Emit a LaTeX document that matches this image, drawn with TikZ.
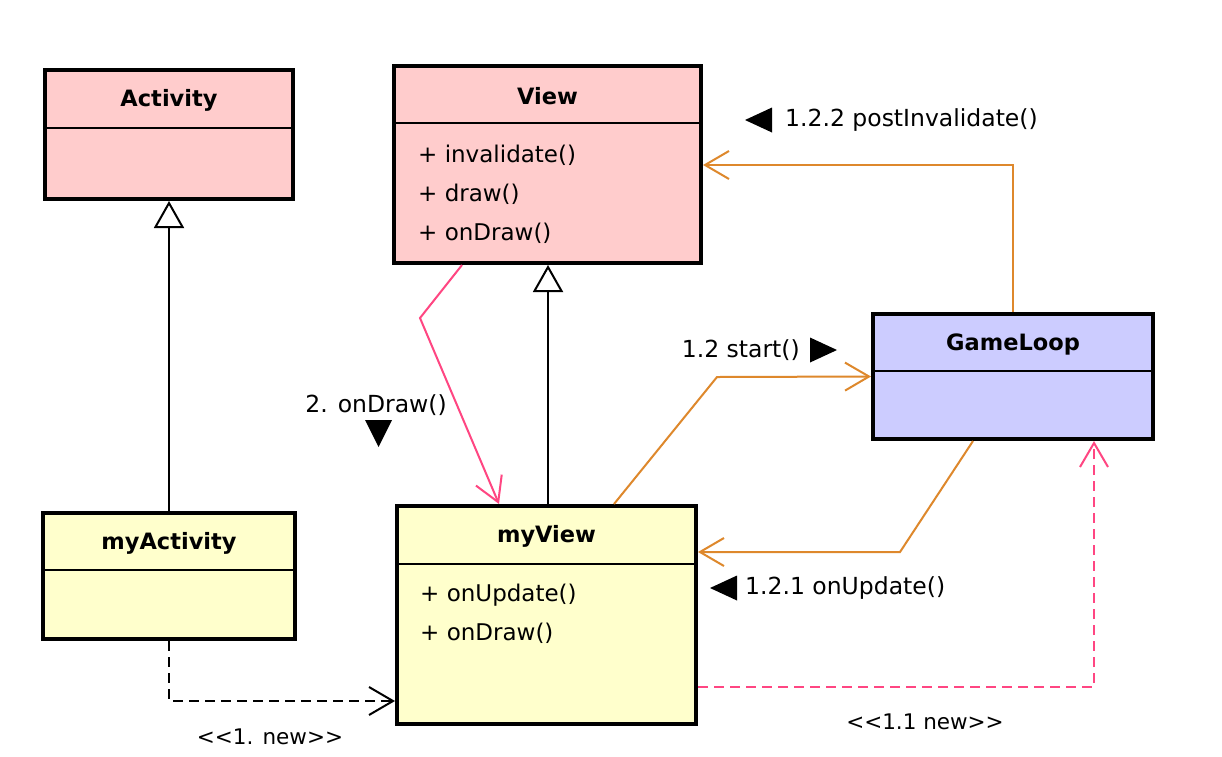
\documentclass[tikz,border=0pt]{standalone}
\usepackage{fontspec}
\setmainfont{DejaVu Sans}
\usetikzlibrary{arrows.meta}

\definecolor{basepink}{RGB}{255,204,204}
\definecolor{subyellow}{RGB}{255,255,204}
\definecolor{looplilac}{RGB}{204,204,255}
\definecolor{callorange}{RGB}{222,136,44}
\definecolor{drawpink}{RGB}{255,70,130}

\tikzset{
    classbox/.style={draw, line width=4pt, inner sep=0pt},
    classname/.style={font=\bfseries\fontsize{22.5}{27}\selectfont},
    member/.style={anchor=west, inner sep=0pt, font=\fontsize{23}{28}\selectfont},
    msg/.style={inner sep=0pt, font=\fontsize{23.5}{28}\selectfont},
    stereo/.style={inner sep=0pt, font=\fontsize{21.5}{26}\selectfont},
    divider/.style={line width=2pt},
    inherit/.style={line width=2pt, -{Triangle[open, length=27pt, width=30pt, line width=2pt]}},
    call/.style={line width=2pt, -{Straight Barb[length=24pt, width=28pt, line width=2pt]}},
    create/.style={call, dash pattern=on 10pt off 6pt}
}

\begin{document}
\begin{tikzpicture}[x=1pt, y=-1pt]

        \fill[white] (0,0) rectangle (1222,756);

        % Activity
        \node [classbox,
            fill=basepink,
            minimum width=248pt,
            minimum height=129pt] (activity) at (169,134.5){};
        \node [classname] (activityname) at (169,100) {Activity};
        \draw [divider] (activity.west |- 0,128) -- (activity.east |- 0,128);

        % View
        \node [classbox,
            fill=basepink,
            minimum width=307pt,
            minimum height=197pt] (view) at (547.5,164.5){};
        \node [classname] (viewname) at (547.5,96) {View};
        \draw [divider] (view.west |- 0,123) -- (view.east |- 0,123);
        \node [member] (viewinvalidate) at (418,155) {+ invalidate()};
        \node [member] (viewdraw) at (418,194) {+ draw()};
        \node [member] (viewondraw) at (418,233) {+ onDraw()};

        % myActivity
        \node [classbox,
            fill=subyellow,
            minimum width=252pt,
            minimum height=126pt] (myactivity) at (169,576){};
        \node [classname] (myactivityname) at (169,543) {myActivity};
        \draw [divider] (myactivity.west |- 0,570) -- (myactivity.east |- 0,570);

        % myView
        \node [classbox,
            fill=subyellow,
            minimum width=299pt,
            minimum height=218pt] (myview) at (546.5,615){};
        \node [classname] (myviewname) at (546.5,536) {myView};
        \draw [divider] (myview.west |- 0,564) -- (myview.east |- 0,564);
        \node [member] (myviewonupdate) at (420,595) {+ onUpdate()};
        \node [member] (myviewondraw) at (420,633) {+ onDraw()};

        % GameLoop
        \node [classbox,
            fill=looplilac,
            minimum width=280pt,
            minimum height=125pt] (gameloop) at (1013,376.5){};
        \node [classname] (gameloopname) at (1013,344) {GameLoop};
        \draw [divider] (gameloop.west |- 0,371) -- (gameloop.east |- 0,371);

        % Inheritance
        \draw [inherit] (myactivity.north) -- (activity.south);
        \draw [inherit] ([xshift=1.5pt]myview.north) -- ([xshift=1.5pt]myview.north |- view.south);

        % Calls
        \draw [call, drawpink] ([xshift=-85.5pt]view.south) -- (420,318) -- ([xshift=-47.5pt]myview.north);
        \draw [call, callorange] ([xshift=67.5pt]myview.north) -- (717,377) -- (gameloop.west);
        \draw [call, callorange] (gameloop.north) -- (gameloop.north |- 0,165) -- (view.east |- 0,165);
        \draw [call, callorange] ([xshift=-40pt]gameloop.south) -- (900,552) -- (myview.east |- 0,552);

        % Creation
        \draw [create, black] (myactivity.south) |- (myview.west |- 0,701);
        \draw [create, drawpink] (myview.east |- 0,687) -| ([xshift=81pt]gameloop.south);

        % Message labels
        \node [msg, anchor=west] (postlabel) at (785,120) {1.2.2 postInvalidate()};
        \fill (postlabel.west) ++(-13,-12.5) -- ++(0,25) -- ++(-27,-12.5) -- cycle;
        \node [msg, anchor=east] (startlabel) at (800,350) {1.2 start()};
        \fill (startlabel.east) ++(10,-12.5) -- ++(0,25) -- ++(27,-12.5) -- cycle;
        \node [msg, anchor=east] (ondrawlabel) at (447,405) {2. onDraw()};
        \fill (365,420) -- (392,420) -- (378.5,447) -- cycle;
        \node [msg, anchor=west] (updatelabel) at (745,588) {1.2.1 onUpdate()};
        \fill (updatelabel.west) ++(-8,-12.5) -- ++(0,25) -- ++(-27,-12.5) -- cycle;
        \node [stereo] (newlabel) at (270,737) {<{}<1. new>{}>};
        \node [stereo] (newlooplabel) at (925,722) {<{}<1.1 new>{}>};

\end{tikzpicture}
\end{document}
